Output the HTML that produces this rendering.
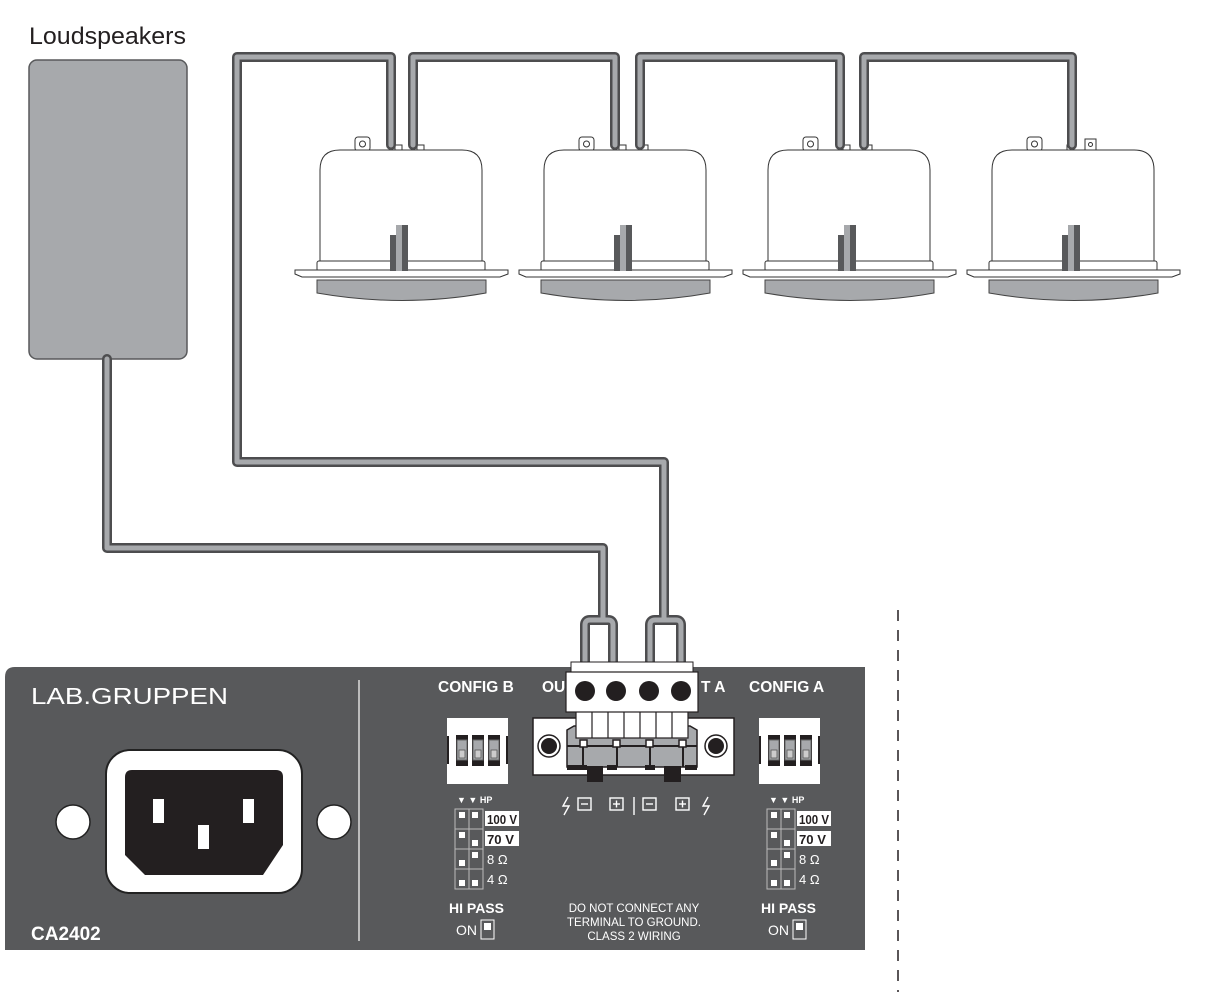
<!DOCTYPE html>
<html><head><meta charset="utf-8"><style>
html,body{margin:0;padding:0;background:#fff;}
svg{display:block;}
text{font-family:"Liberation Sans",Arial,sans-serif;}
</style></head><body>
<svg width="1208" height="1004" viewBox="0 0 1208 1004" xmlns="http://www.w3.org/2000/svg">
<defs>
<g id="spk">
  <rect x="35" y="-13" width="15" height="14" rx="3" fill="#fff" stroke="#333" stroke-width="1"/>
  <circle cx="42.5" cy="-6" r="3" fill="#fff" stroke="#333" stroke-width="1"/>
  <rect x="75" y="-5" width="7" height="6" fill="#fff" stroke="#333" stroke-width="1"/>
  <rect x="97" y="-5" width="7" height="6" fill="#fff" stroke="#333" stroke-width="1"/>
  <path d="M0,111 V20 Q0,0 20,0 H142 Q162,0 162,20 V111" fill="#fff" stroke="#333" stroke-width="1"/>
  <rect x="-3" y="111" width="168" height="10" rx="2" fill="#fff" stroke="#333" stroke-width="1"/>
  <path d="M-25,120 H188 L188,124 L180,127 H-18 L-25,124 Z" fill="#fff" stroke="#333" stroke-width="1"/>
  <path d="M-3,130 H166 V143 Q83,158 -3,143 Z" fill="#a7a9ac" stroke="#444" stroke-width="1"/>
  <rect x="70" y="85" width="6" height="36" fill="#58595b"/>
  <rect x="76" y="75" width="6" height="46" fill="#a7a9ac"/>
  <rect x="82" y="75" width="6" height="46" fill="#58595b"/>
</g>
</defs>

<text x="29" y="44" font-size="24" fill="#231f20" textLength="157" lengthAdjust="spacingAndGlyphs">Loudspeakers</text>
<rect x="29" y="60" width="158" height="299" rx="8" fill="#a7a9ac" stroke="#58595b" stroke-width="1.5"/>

<use href="#spk" x="320" y="150"/>
<use href="#spk" x="544" y="150"/>
<use href="#spk" x="768" y="150"/>
<use href="#spk" x="992" y="150"/>
<rect x="1085" y="139" width="11" height="11" fill="#fff" stroke="#333" stroke-width="1"/>
<circle cx="1090.5" cy="144.5" r="2" fill="#fff" stroke="#333" stroke-width="1"/>

<g fill="none" stroke-linejoin="round" stroke-linecap="round">
<g stroke="#4d4d4f" stroke-width="10">
  <path d="M107,359 V548 H603 V620"/>
  <path d="M585,665 V625 Q585,620 590,620 H608 Q613,620 613,625 V665"/>
  <path d="M664,620 V462 H237 V57 H391 V145"/>
  <path d="M650,665 V625 Q650,620 655,620 H676 Q681,620 681,625 V665"/>
  <path d="M413,145 V57 H615 V145"/>
  <path d="M640,145 V57 H840 V145"/>
  <path d="M864,145 V57 H1072 V145"/>
</g>
<g stroke="#a7a9ac" stroke-width="5">
  <path d="M107,359 V548 H603 V620"/>
  <path d="M585,665 V625 Q585,620 590,620 H608 Q613,620 613,625 V665"/>
  <path d="M664,620 V462 H237 V57 H391 V145"/>
  <path d="M650,665 V625 Q650,620 655,620 H676 Q681,620 681,625 V665"/>
  <path d="M413,145 V57 H615 V145"/>
  <path d="M640,145 V57 H840 V145"/>
  <path d="M864,145 V57 H1072 V145"/>
</g>
</g>

<path d="M5,950 V677 Q5,667 15,667 H865 V950 Z" fill="#58595b"/>
<line x1="359" y1="680" x2="359" y2="941" stroke="#ddd" stroke-width="1.5"/>
<text x="31" y="704" font-size="23" fill="#fff" textLength="197" lengthAdjust="spacingAndGlyphs">LAB.GRUPPEN</text>
<text x="31" y="940" font-size="19" font-weight="bold" fill="#fff">CA2402</text>
<circle cx="73" cy="822" r="17" fill="#fff" stroke="#222" stroke-width="1.5"/>
<circle cx="334" cy="822" r="17" fill="#fff" stroke="#222" stroke-width="1.5"/>
<rect x="106" y="750" width="196" height="143" rx="24" fill="#fff" stroke="#222" stroke-width="2"/>
<path d="M125,777 Q125,770 132,770 H276 Q283,770 283,777 V845 L263,875 H145 L125,855 Z" fill="#231f20"/>
<rect x="153" y="799" width="11" height="24" fill="#fff"/>
<rect x="243" y="799" width="11" height="24" fill="#fff"/>
<rect x="198" y="825" width="11" height="24" fill="#fff"/>

<line x1="898" y1="610" x2="898" y2="992" stroke="#231f20" stroke-width="1.5" stroke-dasharray="11,9"/>

<g font-weight="bold" font-size="15.5" fill="#fff">
<text x="438" y="692">CONFIG B</text>
<text x="542" y="692">OU</text>
<text x="701" y="692">T A</text>
<text x="749" y="692">CONFIG A</text>
<text x="449" y="913" font-size="14">HI PASS</text>
<text x="761" y="913" font-size="14">HI PASS</text>
</g>
<text x="456" y="935" font-size="14" fill="#fff">ON</text>
<rect x="481" y="920" width="13" height="19" fill="none" stroke="#fff" stroke-width="1"/>
<rect x="484" y="923" width="7" height="7" fill="#fff"/>
<text x="768" y="935" font-size="14" fill="#fff">ON</text>
<rect x="793" y="920" width="13" height="19" fill="none" stroke="#fff" stroke-width="1"/>
<rect x="796" y="923" width="7" height="7" fill="#fff"/>
<g font-size="11.5" fill="#fff" text-anchor="middle">
<text x="634" y="912">DO NOT CONNECT ANY</text>
<text x="634" y="926">TERMINAL TO GROUND.</text>
<text x="634" y="940">CLASS 2 WIRING</text>
</g>

<g id="dipB">
<rect x="447" y="718" width="61" height="66" fill="#fff"/>
<rect x="447" y="736" width="2" height="28" fill="#231f20"/><rect x="506" y="736" width="2" height="28" fill="#231f20"/>
<g fill="#231f20"><rect x="456" y="735" width="12" height="31"/><rect x="472" y="735" width="12" height="31"/><rect x="488" y="735" width="12" height="31"/></g>
<g fill="#a7a9ac" stroke="#666" stroke-width="1"><rect x="457" y="740" width="10" height="20"/><rect x="473" y="740" width="10" height="20"/><rect x="489" y="740" width="10" height="20"/></g>
<g fill="#ccc" stroke="#555" stroke-width="0.8"><rect x="459" y="750" width="6" height="8"/><rect x="475" y="750" width="6" height="8"/><rect x="491" y="750" width="6" height="8"/></g>
<text x="457" y="803" font-size="9" fill="#fff" font-weight="bold">▼ ▼  HP</text>
<g fill="none" stroke="#bbb" stroke-width="1"><rect x="455" y="809" width="28" height="80"/><line x1="469" y1="809" x2="469" y2="889"/><line x1="455" y1="829" x2="483" y2="829"/><line x1="455" y1="849" x2="483" y2="849"/><line x1="455" y1="869" x2="483" y2="869"/></g>
<g fill="#fff"><rect x="459" y="812" width="6" height="6"/><rect x="472" y="812" width="6" height="6"/><rect x="459" y="832" width="6" height="6"/><rect x="472" y="840" width="6" height="6"/><rect x="459" y="860" width="6" height="6"/><rect x="472" y="852" width="6" height="6"/><rect x="459" y="880" width="6" height="6"/><rect x="472" y="880" width="6" height="6"/></g>
<rect x="485" y="811" width="34" height="15" fill="#fff"/><text x="487" y="824" font-size="13" font-weight="bold" fill="#231f20" textLength="30" lengthAdjust="spacingAndGlyphs">100 V</text>
<rect x="485" y="831" width="34" height="15" fill="#fff"/><text x="487" y="844" font-size="13" font-weight="bold" fill="#231f20" textLength="27" lengthAdjust="spacingAndGlyphs">70 V</text>
<text x="487" y="864" font-size="13" fill="#fff">8 Ω</text>
<text x="487" y="884" font-size="13" fill="#fff">4 Ω</text>
</g>
<use href="#dipB" x="312" y="0"/>

<rect x="533" y="718" width="201" height="57" fill="#fff" stroke="#231f20" stroke-width="1.5"/>
<circle cx="549" cy="746" r="11" fill="#fff" stroke="#231f20" stroke-width="1.5"/><circle cx="549" cy="746" r="8" fill="#231f20"/>
<circle cx="716" cy="746" r="11" fill="#fff" stroke="#231f20" stroke-width="1.5"/><circle cx="716" cy="746" r="8" fill="#231f20"/>
<path d="M567,730 L574,726 H690 L697,730 V767 H567 Z" fill="#a7a9ac" stroke="#231f20" stroke-width="1.5"/>
<line x1="567" y1="746" x2="697" y2="746" stroke="#231f20" stroke-width="2"/>
<g stroke="#231f20" stroke-width="2"><line x1="583" y1="745" x2="583" y2="767"/><line x1="617" y1="745" x2="617" y2="767"/><line x1="650" y1="745" x2="650" y2="767"/><line x1="683" y1="745" x2="683" y2="767"/></g>
<g fill="#231f20"><rect x="587" y="766" width="16" height="16"/><rect x="664" y="766" width="17" height="16"/><rect x="567" y="765" width="20" height="5"/><rect x="607" y="765" width="10" height="5"/><rect x="645" y="765" width="10" height="5"/><rect x="685" y="765" width="12" height="5"/></g>
<rect x="576" y="710" width="112" height="28" fill="#fff" stroke="#231f20" stroke-width="1.2"/>
<g stroke="#231f20" stroke-width="1.2"><line x1="592" y1="710" x2="592" y2="738"/><line x1="608" y1="710" x2="608" y2="738"/><line x1="624" y1="710" x2="624" y2="738"/><line x1="640" y1="710" x2="640" y2="738"/><line x1="656" y1="710" x2="656" y2="738"/><line x1="672" y1="710" x2="672" y2="738"/></g>
<g fill="#fff" stroke="#231f20" stroke-width="1.5"><rect x="580" y="740" width="7" height="7"/><rect x="613" y="740" width="7" height="7"/><rect x="646" y="740" width="7" height="7"/><rect x="679" y="740" width="7" height="7"/></g>
<rect x="571" y="662" width="122" height="12" fill="#fff" stroke="#231f20" stroke-width="1"/>
<rect x="566" y="672" width="132" height="40" fill="#fff" stroke="#231f20" stroke-width="1.2"/>
<g fill="#231f20"><circle cx="585" cy="691" r="10"/><circle cx="616" cy="691" r="10"/><circle cx="649" cy="691" r="10"/><circle cx="681" cy="691" r="10"/></g>
<g fill="none" stroke="#fff" stroke-width="1.4">
<path d="M568,797 L563,806 H569 L564,815"/>
<path d="M708,797 L703,806 H709 L704,815"/>
<rect x="578" y="798" width="13" height="12"/><line x1="581" y1="804" x2="588" y2="804"/>
<rect x="610" y="798" width="13" height="12"/><line x1="613" y1="804" x2="620" y2="804"/><line x1="616.5" y1="800.5" x2="616.5" y2="807.5"/>
<line x1="634" y1="797" x2="634" y2="815"/>
<rect x="643" y="798" width="13" height="12"/><line x1="646" y1="804" x2="653" y2="804"/>
<rect x="676" y="798" width="13" height="12"/><line x1="679" y1="804" x2="686" y2="804"/><line x1="682.5" y1="800.5" x2="682.5" y2="807.5"/>
</g>
</svg>
</body></html>
